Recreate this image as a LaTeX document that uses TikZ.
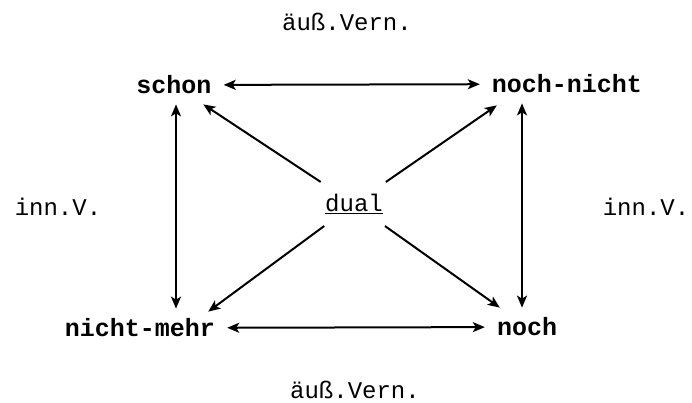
\documentclass[tikz,border=0pt]{standalone}
\usepackage{fontspec}
\setmainfont{Liberation Mono}
\usetikzlibrary{arrows.meta,calc}
\begin{document}
\begin{tikzpicture}[x=1pt,y=-1pt,
  lbl/.style={font=\fontsize{24}{28}\selectfont, inner sep=0pt},
  term/.style={font=\fontsize{25}{28}\selectfont\bfseries, inner xsep=12pt, inner ysep=10pt},
  arr/.style={line width=2pt, -{Stealth[length=12pt,width=10pt,inset=3pt]}},
  darr/.style={line width=2pt, {Stealth[length=12pt,width=10pt,inset=3pt]}-{Stealth[length=12pt,width=10pt,inset=3pt]}}]
\useasboundingbox (0,0) rectangle (692,403);
\node[lbl] (top) at (347,22) {äuß.Vern.};
\node[lbl] (bot) at (355,390) {äuß.Vern.};
\node[lbl] (innl) at (58,207) {inn.V.};
\node[lbl] (innr) at (646,207) {inn.V.};
\node[term] (schon) at (174,85) {schon};
\node[term] (nn) at (567,84) {noch-nicht};
\node[term] (nm) at (140,328) {nicht-mehr};
\node[term] (noch) at (527,327) {noch};
\node[font=\fontsize{24}{28}\selectfont, inner xsep=5pt, inner ysep=12pt] (dual) at (354,204) {\underline{dual}};
\draw[darr] (schon) -- (nn);
\draw[darr] (nm) -- (noch);
\draw[darr] ([xshift=2pt]schon.south) -- ([xshift=2pt]schon.south |- nm.north);
\draw[darr] ([xshift=-5pt]noch.north) -- ([xshift=-5pt]noch.north |- nn.south);
\draw[arr] (dual) -- (schon);
\draw[arr] (dual) -- ([xshift=17pt,yshift=-2pt]nn.south west);
\draw[arr] (dual) -- ([xshift=-19pt,yshift=-3pt]nm.north east);
\draw[arr] (dual) -- (noch);
\end{tikzpicture}
\end{document}
